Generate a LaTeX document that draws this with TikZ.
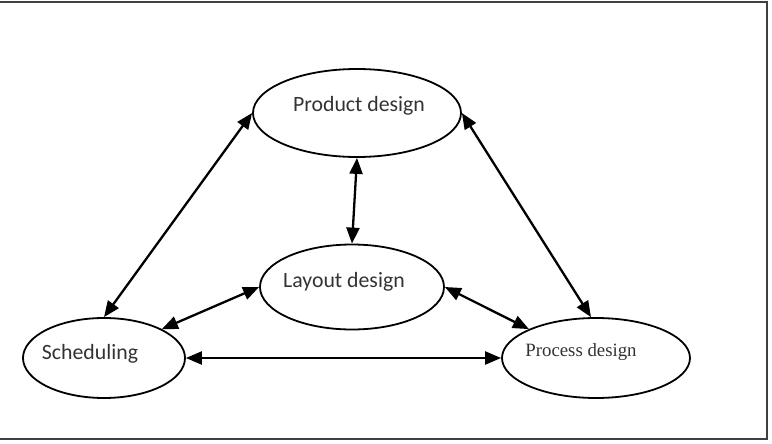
\documentclass[tikz,border=0pt]{standalone}
\usepackage{fontspec}
\setmainfont{Carlito}
\newfontfamily\timesfont{Liberation Serif}
\usetikzlibrary{arrows.meta,shapes.geometric}
\begin{document}
\begin{tikzpicture}[x=1pt,y=-1pt,
  oval/.style={draw=black,line width=1.8pt,ellipse,inner sep=0pt},
  link/.style={line width=2.3pt,{Triangle[length=16pt,width=13pt]}-{Triangle[length=16pt,width=13pt]}},
  lbl/.style={font=\fontsize{21.8}{24}\selectfont,text=black!80}]
\useasboundingbox (0,0) rectangle (772,444);
\draw[line width=2pt,draw=black!75] (0,2) -- (767,2) -- (767,439) -- (0,439);
\node[oval,minimum width=208pt,minimum height=88pt] (prod) at (357,113) {};
\node[oval,minimum width=184pt,minimum height=85pt] (lay) at (352,287) {};
\node[oval,minimum width=162pt,minimum height=80pt] (sch) at (104,358) {};
\node[oval,minimum width=188pt,minimum height=80pt] (proc) at (596,358) {};
\node[lbl] (tprod) at (359,106) {Product design};
\node[lbl] (tlay) at (344,282) {Layout design};
\node[lbl] (tsch) at (90,354) {Scheduling};
\node[lbl,font=\timesfont\fontsize{18.8}{22}\selectfont] (tproc) at (581,352) {Process design};
\draw[link] (prod.west) -- (sch.north);
\draw[link] (prod.east) -- (proc.97);
\draw[link] (prod.south) -- (lay.north);
\draw[link] (lay.west) -- (sch.north east);
\draw[link] (lay.east) -- (proc.north west);
\draw[link] (sch.east) -- (proc.west);
\end{tikzpicture}
\end{document}
